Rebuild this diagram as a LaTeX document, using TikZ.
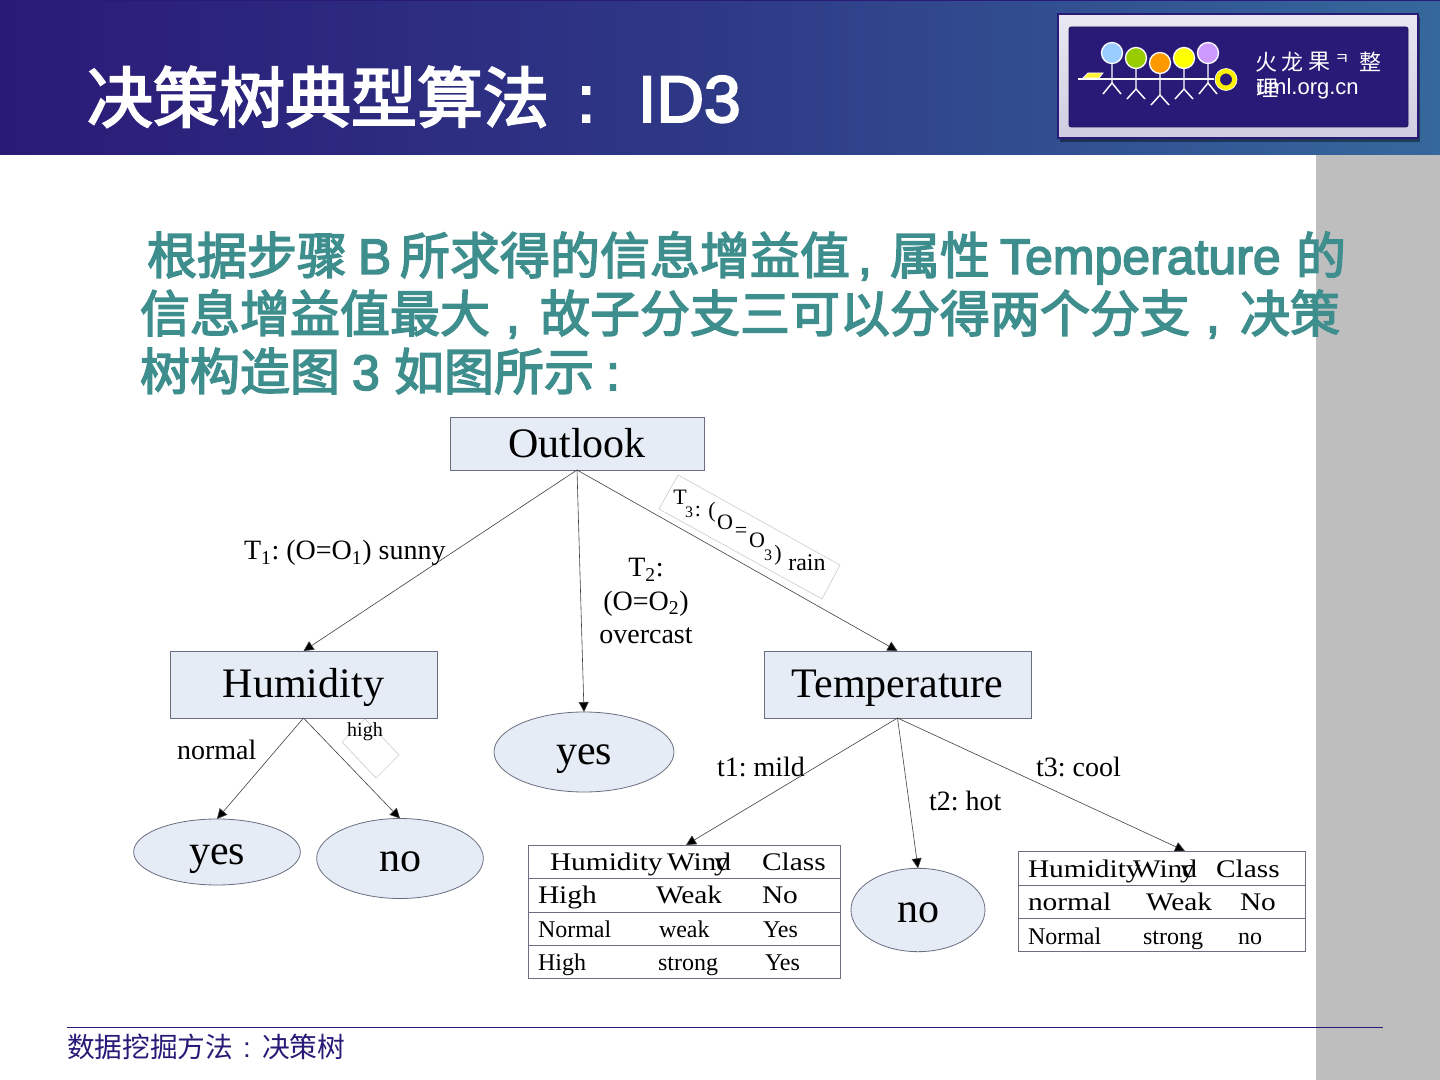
\documentclass[tikz,border=0pt]{standalone}
\usepackage{fontspec}
\usetikzlibrary{arrows.meta,shapes.geometric}
\setmainfont{Liberation Serif}
\newfontfamily\cjk{Noto Sans CJK SC}
\newfontfamily\cjkb[FakeBold=3]{Noto Sans CJK SC}
\newfontfamily\lsans{Liberation Sans}
\newfontfamily\lsansb[FakeBold=3]{Liberation Sans}
\newfontfamily\wideserif[FakeStretch=1.16]{Liberation Serif}
\newcommand{\fs}[1]{\fontsize{#1}{#1}\selectfont}
\newcommand{\drop}[2]{\raisebox{-#1pt}[0pt][0pt]{#2}}
\AtBeginDocument{\frenchspacing}
\definecolor{deep}{HTML}{2A1A78}
\definecolor{headblue}{HTML}{35689C}
\definecolor{teal}{HTML}{3F8E8E}
\definecolor{band}{HTML}{BEBEBE}
\definecolor{boxfill}{HTML}{E6ECF6}
\definecolor{boxline}{HTML}{6A6E80}
\definecolor{lightedge}{HTML}{CFCFCF}
\tikzset{
  x=0.75pt,y=-0.75pt,
  every node/.style={inner sep=0pt,outer sep=0pt},
  txt/.style={anchor=base west,text=black},
  boxnode/.style={draw=boxline,line width=0.6pt,fill=boxfill,rectangle,font=\fs{31.5}},
  oval/.style={draw=boxline,line width=0.6pt,fill=boxfill,ellipse,font=\fs{31.5}},
  tablebox/.style={draw=boxline,line width=0.6pt,fill=white,rectangle},
  rowline/.style={draw=boxline,line width=0.6pt},
  link/.style={draw=black!75,line width=0.45pt,-{Triangle[length=7.5pt,width=7.5pt,fill=black]}},
  lab/.style={txt,font=\fs{21}},
  hd/.style={txt,font=\wideserif\fs{19}},
  cell/.style={txt,font=\fs{18}},
  title/.style={anchor=base west,text=white,font=\cjkb\fs{49.5}},
  titlel/.style={anchor=base west,text=white,font=\lsansb\fs{49.5}},
  bodyc/.style={anchor=base west,text=teal,font=\cjkb\fs{37.5}},
  bodyl/.style={anchor=base west,text=teal,font=\lsansb\fs{37.5}},
  rainl/.style={anchor=center,text=black,font=\fs{16.5}},
  rainsub/.style={anchor=center,text=black,font=\fs{12}},
  stick/.style={draw=white,line width=1.1pt},
  head/.style={draw=white,line width=1pt},
  logoc/.style={anchor=center,text=white,font=\cjk\fs{16.5}},
}
\begin{document}
\begin{tikzpicture}
\useasboundingbox (0,0) rectangle (1440,1080);
\fill[white] (0,0) rectangle (1440,1080);
\fill[band] (1316,155) rectangle (1440,1080);
\shade[left color=deep,right color=headblue,middle color=deep!60!headblue] (0,0) rectangle (1440,155);
\fill[deep] (0,0) rectangle (1440,1.5);

% logo
\fill[black,opacity=.4] (1060,17) rectangle (1420,142);
\shade[top color=white!90!deep,bottom color=deep!22!white,draw=deep,line width=0.8pt] (1058,14) rectangle (1418,138);
\filldraw[fill=deep,draw=deep!70!black,line width=.5pt,rounded corners=1.5pt] (1069,27) rectangle (1408,127);
\draw[stick] (1078,79) -- (1214,79);
\filldraw[fill=yellow!80!white,draw=white,line width=.6pt] (1083,78) -- (1088,73) -- (1103,73) -- (1099,78) -- cycle;
\foreach \xa/\ya/\yb/\yc/\col in {1112/53/83/94/99CCFF,1136/58/89/99/99CC00,1160/63/95/105/FF9900,1184/58/89/99/FFFF00,1208/53/83/94/CC99FF}{
  \draw[stick] (\xa,\ya) -- (\xa,\yb) -- (\xa-9,\yc) (\xa,\yb) -- (\xa+9,\yc);
  \definecolor{hc}{HTML}{\col}
  \filldraw[head,fill=hc] (\xa,\ya) circle (10.5);
}
\filldraw[draw=yellow,fill=deep,line width=3.6pt] (1226,79.5) circle (8.5);
\draw[white,line width=.5pt] (1226,79.5) circle (11);
\node[logoc] (lg1) at (1266,62) {火};
\node[logoc] (lg2) at (1292,62) {龙};
\node[logoc] (lg3) at (1319,62) {果};
\node[logoc,font=\cjk\fs{12}] (lg4) at (1342,60) {ㅋ};
\node[logoc] (lg5) at (1370,62) {整};
\node[logoc] (lg6) at (1267,88) {理};
\node[anchor=base west,text=white,font=\lsans\fs{16.5}] (lg7) at (1256,95) {uml.org.cn};

% title
\node[title] (t1) at (87,122) {决策树典型算法};
\node[titlel] (t1c) at (577,122) {:};
\node[titlel] (t2) at (638,122) {ID3};

% body text
\node[bodyc] (b1) at (147,274) {根据步骤};
\node[bodyl] (b2) at (358,274) {B};
\node[bodyc] (b3) at (400,274) {所求得的信息增益值};
\node[bodyl] (b4) at (858,274) {,};
\node[bodyc] (b5) at (890,274) {属性};
\node[bodyl] (b6) at (1000,274) {Temperature};
\node[bodyc] (b7) at (1296,274) {的};
\node[bodyc] (b8) at (140,332) {信息增益值最大};
\node[bodyl] (b8c) at (506,332) {,};
\node[bodyc] (b8d) at (540,332) {故子分支三可以分得两个分支};
\node[bodyl] (b8e) at (1206,332) {,};
\node[bodyc] (b8f) at (1240,332) {决策};
\node[bodyc] (b9) at (140,390) {树构造图};
\node[bodyl] (b10) at (352,390) {3};
\node[bodyc] (b11) at (394,390) {如图所示};
\node[bodyl] (b12) at (606,390) {:};

% tree nodes
\node[boxnode,minimum width=190.5pt,minimum height=39.75pt] (outlook) at (577,443.5) {Outlook};
\node[boxnode,minimum width=200.25pt,minimum height=50.25pt] (humidity) at (303.5,684.5) {\drop{9.4}{Humidity}};
\node[boxnode,minimum width=200.25pt,minimum height=50.25pt] (temperature) at (897.5,684.5) {\drop{9.4}{Temperature}};
\node[oval,minimum width=135pt,minimum height=60pt] (yesmid) at (584,752) {\drop{9}{yes}};
\node[oval,minimum width=125pt,minimum height=49.5pt] (yesleft) at (217,852) {\drop{9}{yes}};
\node[oval,minimum width=125pt,minimum height=60pt] (nomid) at (400,858.5) {\drop{9.4}{no}};
\node[oval,minimum width=100.5pt,minimum height=62.5pt] (noright) at (918,910) {\drop{9.4}{no}};

% tables
\node[tablebox,minimum width=234pt,minimum height=99.75pt] (tabA) at (684,911.5) {};
\draw[rowline] (tabA.west |- 0,878) -- (tabA.east |- 0,878);
\draw[rowline] (tabA.west |- 0,912) -- (tabA.east |- 0,912);
\draw[rowline] (tabA.west |- 0,945) -- (tabA.east |- 0,945);
\node[hd] (a1) at (550,870) {Humidity};
\node[hd] (a2) at (667,870) {Wind};
\node[hd] (a2y) at (714,870) {y};
\node[hd] (a3) at (762,870) {Class};
\node[hd] (a4) at (538,903) {High};
\node[hd] (a5) at (656,903) {Weak};
\node[hd] (a6) at (762,903) {No};
\node[cell] (a7) at (538,937) {Normal};
\node[cell] (a8) at (659,937) {weak};
\node[cell] (a9) at (763,937) {Yes};
\node[cell] (a10) at (538,970) {High};
\node[cell] (a11) at (658,970) {strong};
\node[cell] (a12) at (765,970) {Yes};

\node[tablebox,minimum width=215.25pt,minimum height=75pt] (tabB) at (1161.5,901) {};
\draw[rowline] (tabB.west |- 0,885) -- (tabB.east |- 0,885);
\draw[rowline] (tabB.west |- 0,918) -- (tabB.east |- 0,918);
\node[hd] (c1) at (1028,877) {Humidity};
\node[hd] (c2) at (1133,877) {Wind};
\node[hd] (c2y) at (1180,877) {y};
\node[hd] (c3) at (1216,877) {Class};
\node[hd] (c4) at (1028,910) {normal};
\node[hd] (c5) at (1146,910) {Weak};
\node[hd] (c6) at (1240,910) {No};
\node[cell] (c7) at (1028,944) {Normal};
\node[cell] (c8) at (1143,944) {strong};
\node[cell] (c9) at (1238,944) {no};

% connectors
\draw[link] (outlook.south) -- (humidity.north);
\draw[link] (outlook.south) -- (yesmid.north);
\draw[link] (outlook.south) -- (temperature.north);
\draw[link] (humidity.south) -- (yesleft.north);
\draw[link] (humidity.south) -- (nomid.north);
\draw[link] (temperature.south) -- ([xshift=1.5pt]tabA.north);
\draw[link] (temperature.south) -- (noright.north);
\draw[link] (temperature.south) -- ([xshift=17.6pt]tabB.north);

% labels
\node[lab] (l1) at (244,560) {T\textsubscript{1}: (O=O\textsubscript{1}) sunny};
\node[anchor=base,font=\fs{21}] (l2a) at (646,577) {T\textsubscript{2}:};
\node[anchor=base,font=\fs{21}] (l2b) at (646,610) {(O=O\textsubscript{2})};
\node[anchor=base,font=\fs{21}] (l2c) at (646,643) {overcast};
\node[lab] (l3) at (177,759) {normal};
\node[lab] (l4) at (717,776) {t1: mild};
\node[lab] (l5) at (929,810) {t2: hot};
\node[lab] (l6) at (1036,776) {t3: cool};

% rotated label frame for T3
\draw[lightedge,line width=.5pt] (678,475) -- (840,565) -- (822,599) -- (659,509) -- cycle;
\node[rainl] (r1) at (680,497) {T};
\node[rainsub] (r2) at (689,512) {3};
\node[rainl] (r3) at (698,511) {:};
\node[rainl] (r4) at (712,512) {(};
\node[rainl] (r5) at (725,522) {O};
\node[rainl] (r6) at (741,532) {=};
\node[rainl] (r7) at (757,540) {O};
\node[rainsub] (r8) at (768,555) {3};
\node[rainl] (r9) at (778,555) {)};
\node[rainl,font=\fs{18}] (r10) at (807,563) {rain};

% rotated label frame for high
\draw[lightedge,line width=.5pt] (365,719) -- (399,755) -- (376,778) -- (342,742) -- cycle;
\node[anchor=center,font=\fs{15}] (h1) at (365,732) {high};

% footer
\draw[deep,line width=.6pt] (67,1027) -- (1383,1027);
\node[anchor=base west,text=deep,font=\cjk\fs{20.8}] (f1) at (67,1057) {数据挖掘方法};
\node[anchor=base west,text=deep,font=\lsans\fs{20.8}] (f2) at (243,1057) {:};
\node[anchor=base west,text=deep,font=\cjk\fs{20.8}] (f3) at (262,1057) {决策树};
\end{tikzpicture}
\end{document}
